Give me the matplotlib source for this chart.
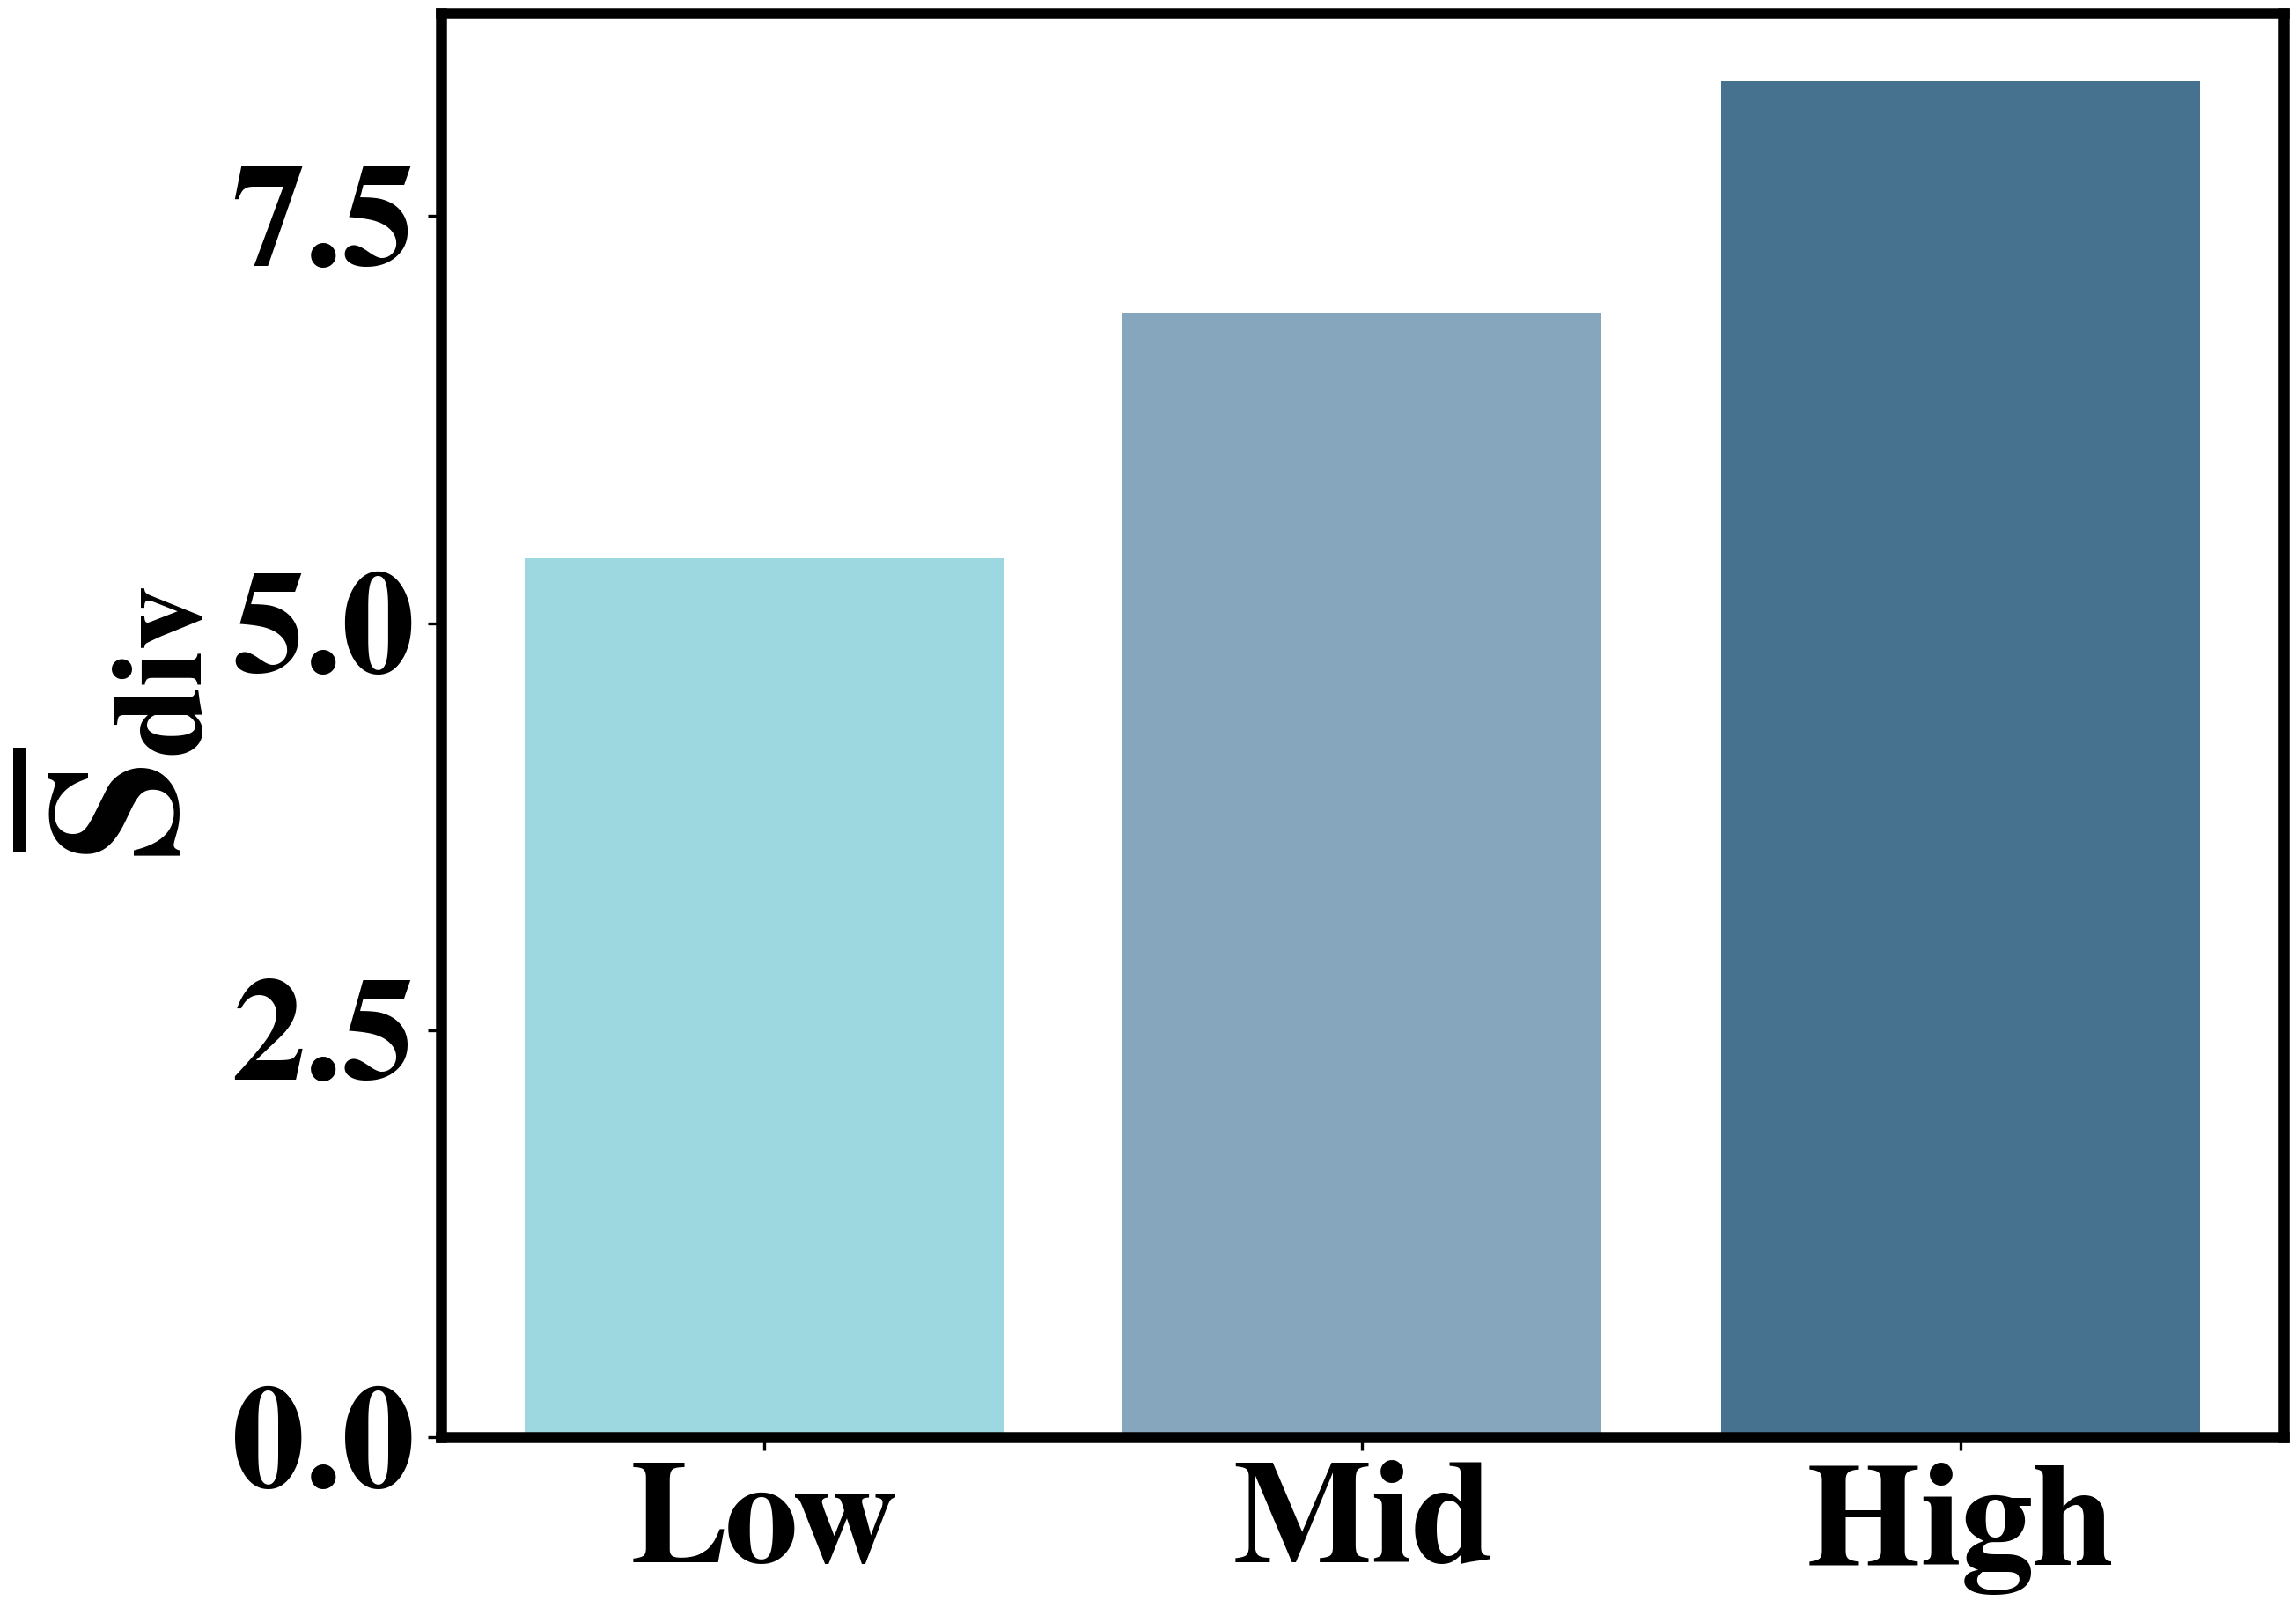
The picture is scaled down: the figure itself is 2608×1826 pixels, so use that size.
import matplotlib
matplotlib.use("Agg")
import matplotlib.pyplot as plt

# data
categories = ["Low", "Mid", "High"]
values = [5.40, 6.90, 8.33]
colors = ["#9DD7E0", "#86A6BE", "#46718F"]

plt.rcParams['font.family'] = 'FreeSerif'
plt.rcParams['font.weight'] = 'bold'
plt.rcParams['mathtext.fontset'] = 'custom'
plt.rcParams['mathtext.rm'] = 'FreeSerif:bold'
plt.rcParams['mathtext.bf'] = 'FreeSerif:bold'
plt.rcParams['mathtext.it'] = 'FreeSerif:bold:italic'

fig = plt.figure(figsize=(2608/300, 1826/300), dpi=300)
ax = fig.add_axes([0.192, 0.1062, 0.8026, 0.8856])

ax.bar(categories, values, width=0.8, color=colors)

ax.set_yticks([0.0, 2.5, 5.0, 7.5])
ax.set_yticklabels(["0.0", "2.5", "5.0", "7.5"])
ax.tick_params(axis='both', labelsize=40)

# y label: S-bar with "div" subscript
ax.set_ylabel(r'$\widebar{\mathrm{S}}_{\mathrm{div}}$', fontsize=50, labelpad=4)

for sp in ax.spines.values():
    sp.set_linewidth(3)
    sp.set_zorder(5)

fig.savefig("out.png", dpi=300)
